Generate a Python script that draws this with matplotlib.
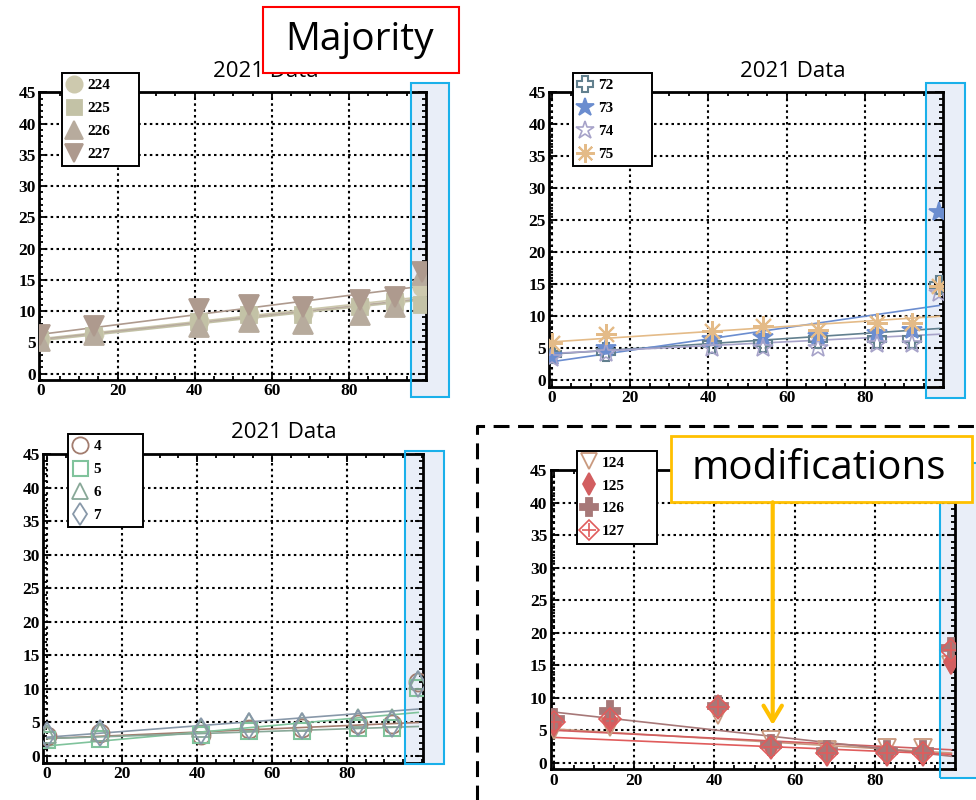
import matplotlib
matplotlib.use("Agg")
import matplotlib.pyplot as plt
from matplotlib.patches import Rectangle, FancyArrowPatch
from matplotlib.lines import Line2D
from matplotlib.ticker import FixedLocator, MultipleLocator

W, H = 976, 800
plt.rcParams["font.family"] = ["Liberation Serif", "DejaVu Serif"]
plt.rcParams["font.weight"] = "bold"

fig = plt.figure(figsize=(W / 100, H / 100), dpi=100)


def fx(px):
    return px / W


def fy(py):
    return 1.0 - py / H


def frect(l, t, r, b):
    return [fx(l), fy(b), (r - l) / W, (b - t) / H]


# sampling days shared by all panels
days = [0, 14, 41, 54, 68, 83, 92, 99]
trend_x = [0, 99]

# ---- panel A: units 224-227 ----
a_labels = ["224", "225", "226", "227"]
a_224 = [5.6, 6.3, 8.5, 9.6, 9.7, 11.0, 11.6, 13.9]
a_225 = [5.4, 6.1, 8.3, 9.4, 9.4, 10.7, 11.5, 11.0]
a_226 = [5.3, 6.2, 7.5, 8.3, 8.0, 9.4, 10.7, 15.8]
a_227 = [6.2, 7.6, 10.3, 11.0, 10.7, 11.8, 12.3, 16.3]
a_trend = [(5.6, 12.3), (5.3, 11.8), (5.5, 12.0), (6.3, 14.0)]

# ---- panel B: units 72-75 ----
b_labels = ["72", "73", "74", "75"]
b_72 = [4.1, 4.4, 5.6, 5.9, 6.4, 6.4, 6.5, 14.9]
b_73 = [3.8, 5.1, 6.5, 6.7, 6.9, 7.4, 7.9, 26.3]
b_74 = [3.5, 4.3, 5.1, 5.1, 5.1, 5.6, 5.6, 13.7]
b_75 = [5.8, 7.3, 7.7, 8.5, 7.9, 8.9, 8.9, 14.7]
b_trend = [(4.1, 8.1), (2.9, 11.7), (4.2, 7.2), (6.0, 10.0)]

# ---- panel C: units 4-7 ----
c_labels = ["4", "5", "6", "7"]
c_4 = [3.0, 3.4, 3.2, 4.0, 4.2, 4.7, 4.7, 11.1]
c_5 = [2.4, 2.6, 3.1, 3.7, 3.7, 4.2, 4.2, 10.1]
c_6 = [3.3, 3.6, 4.2, 5.1, 5.1, 5.6, 5.6, 11.3]
c_7 = [3.1, 3.4, 3.7, 4.4, 4.5, 4.9, 4.8, 10.8]
c_trend = [(2.6, 5.0), (1.5, 6.5), (2.6, 4.4), (2.8, 7.0)]

# ---- panel D: units 124-127 ----
d_labels = ["124", "125", "126", "127"]
d_124 = [5.0, 5.5, 7.3, 3.5, 1.9, 2.2, 2.2, 15.0]
d_125 = [6.0, 6.6, 8.5, 2.4, 1.4, 1.4, 1.4, 15.5]
d_126 = [6.8, 8.0, 8.8, 2.8, 1.8, 1.8, 1.8, 17.6]
d_127 = [6.3, 6.8, 8.5, 2.5, 1.5, 1.5, 1.5, 17.4]
d_trend = [(5.2, 1.5), (5.0, 2.0), (7.8, 1.0), (3.9, 1.3)]

title_text = "2021 Data"


def sty(marker, color, ms, fill=True, mew=1.3, overlay=None):
    return dict(marker=marker, color=color, ms=ms, fill=fill, mew=mew, overlay=overlay)


a_styles = [sty("o", "#cdc9ae", 13), sty("s", "#c3c2a6", 12),
            sty("^", "#b7ab9d", 14), sty("v", "#ae9a8e", 14)]
b_styles = [sty("P", "#62808e", 13, fill=False, mew=1.5), sty("*", "#6b8dcf", 15),
            sty("*", "#a7a3c9", 15, fill=False, mew=1.2), sty((8, 2, 0), "#e4bb88", 15, mew=1.5)]
c_styles = [sty("o", "#a27c6e", 13, fill=False), sty("s", "#80c39c", 12, fill=False, mew=1.5),
            sty("^", "#88a898", 13, fill=False), sty("d", "#8898a9", 13, fill=False)]
d_styles = [sty("v", "#c9997e", 13, fill=False), sty("d", "#d25e60", 12),
            sty("P", "#a77878", 14), sty("D", "#e05c5c", 11, fill=False, mew=1.2, overlay="+")]


def draw_panel(rect, xlim, labels, series, styles, trends, legend_px, title_px):
    ax = fig.add_axes(frect(*rect))
    ax.set_facecolor("none")
    ax.set_xlim(*xlim)
    ax.set_ylim(-1, 45)
    ax.xaxis.set_major_locator(FixedLocator([0, 20, 40, 60, 80]))
    ax.xaxis.set_minor_locator(MultipleLocator(5))
    ax.yaxis.set_major_locator(FixedLocator(list(range(0, 46, 5))))
    ax.yaxis.set_minor_locator(MultipleLocator(1))
    ax.tick_params(which="both", direction="in", top=True, right=True,
                   width=1.3, color="black", labelsize=12.5, pad=2.5)
    ax.tick_params(which="major", length=6)
    ax.tick_params(which="minor", length=3)
    for sp in ax.spines.values():
        sp.set_linewidth(2)
    ax.grid(True, which="major", color="black", linestyle=(0, (1.2, 1.6)), linewidth=1.5)

    handles = []
    for ys, st, tr in zip(series, styles, trends):
        ax.plot(trend_x, tr, color=st["color"], lw=1.2, zorder=2)
        kw = dict(linestyle="none", marker=st["marker"], ms=st["ms"],
                  mec=st["color"], mew=st["mew"],
                  mfc=st["color"] if st["fill"] else "none")
        ln, = ax.plot(days, ys, zorder=3, **kw)
        if st["overlay"]:
            ax.plot(days, ys, linestyle="none", marker=st["overlay"], ms=st["ms"],
                    mec=st["color"], mew=st["mew"], zorder=3)
            ov = Line2D([], [], linestyle="none", marker=st["overlay"], ms=st["ms"],
                        mec=st["color"], mew=st["mew"])
            handles.append((ln, ov))
        else:
            handles.append(ln)

    l, t, r = legend_px
    leg = ax.legend(handles, labels, loc="upper left", mode="expand",
                    bbox_to_anchor=(fx(l), fy(t) - 0.1, (r - l) / W, 0.1),
                    bbox_transform=fig.transFigure, borderaxespad=0,
                    fancybox=False, framealpha=1, edgecolor="black",
                    prop={"family": "Liberation Serif", "weight": "bold", "size": 11},
                    handlelength=0.85, handletextpad=0.45, labelspacing=0.6,
                    borderpad=0.35, markerscale=0.9)
    leg.get_frame().set_linewidth(1.4)
    leg.set_zorder(6)

    if title_px is not None:
        fig.text(fx(title_px[0]), fy(title_px[1]), title_text, ha="center", va="baseline",
                 family="Open Sans", weight="normal", fontsize=16)
    return ax


def highlight(l, t, r, b):
    fig.add_artist(Rectangle((fx(l), fy(b)), (r - l) / W, (b - t) / H,
                             transform=fig.transFigure, facecolor="#e9eef8",
                             edgecolor="none", zorder=-1))
    fig.add_artist(Rectangle((fx(l), fy(b)), (r - l) / W, (b - t) / H,
                             transform=fig.transFigure, fill=False,
                             edgecolor="#1ab0ea", lw=1.5, zorder=5))


highlight(410.7, 82.7, 449.3, 396.7)
highlight(925.7, 83.3, 964.7, 398.0)
highlight(405.0, 450.7, 444.3, 764.3)
highlight(940.0, 463.3, 990.0, 777.7)

draw_panel((39.3, 92.3, 426.0, 380.0), (-0.3, 100.0), a_labels,
           [a_224, a_225, a_226, a_227], a_styles, a_trend, (62.0, 73.3, 139.3), (266, 77))
draw_panel((549.3, 92.3, 943.0, 386.7), (-0.6, 99.9), b_labels,
           [b_72, b_73, b_74, b_75], b_styles, b_trend, (572.7, 73.3, 651.7), (793, 77))
draw_panel((43.3, 454.3, 422.7, 762.7), (-1.0, 100.2), c_labels,
           [c_4, c_5, c_6, c_7], c_styles, c_trend, (68.3, 434.3, 143.3), (284, 438))
draw_panel((550.7, 470.0, 955.0, 769.3), (-0.75, 99.9), d_labels,
           [d_124, d_125, d_126, d_127], d_styles, d_trend, (576.7, 450.7, 657.3), None)

# "Majority" callout
fig.add_artist(Rectangle((fx(262.7), fy(73.3)), (459.3 - 262.7) / W, (73.3 - 7.3) / H,
                         transform=fig.transFigure, facecolor="white",
                         edgecolor="#ff0000", lw=1.5, zorder=8))
fig.text(fx(360), fy(50), "Majority", ha="center", va="baseline", family="Open Sans",
         weight="normal", fontsize=28, zorder=9)

# "modifications" callout with arrow
fig.add_artist(Rectangle((fx(670.7), fy(502.3)), (971.7 - 670.7) / W, (502.3 - 435.7) / H,
                         transform=fig.transFigure, facecolor="white",
                         edgecolor="#ffc000", lw=2, zorder=8))
fig.text(fx(819), fy(479), "modifications", ha="center", va="baseline", family="Open Sans",
         weight="normal", fontsize=29, zorder=9)
fig.add_artist(FancyArrowPatch((fx(772.7), fy(502.3)), (fx(772.7), fy(725)),
                               transform=fig.transFigure,
                               arrowstyle="->,head_length=0.55,head_width=0.33",
                               mutation_scale=20, color="#ffc000", lw=3,
                               shrinkA=0, shrinkB=0, zorder=9))

# dashed frame around the lower-right panel
dash = (0, (5.2, 2.8))
fig.add_artist(Line2D([fx(477.3), fx(477.3), fx(980)], [fy(805), fy(425.7), fy(425.7)],
                      transform=fig.transFigure, color="black", lw=2.2,
                      linestyle=dash, zorder=7))

fig.savefig("out.png", dpi=100)
